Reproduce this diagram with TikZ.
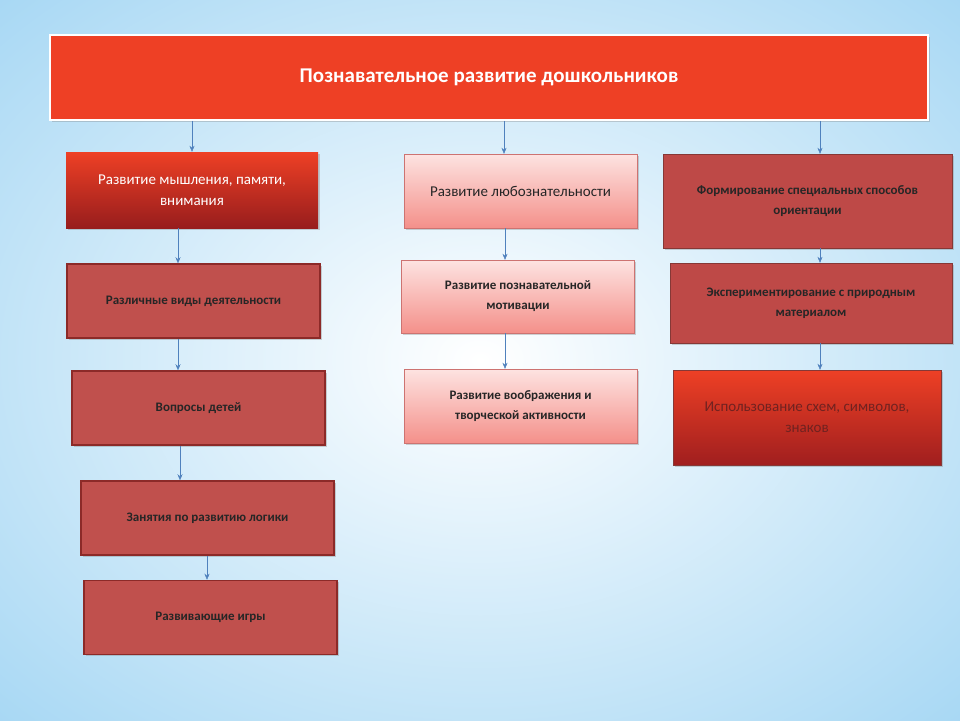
\documentclass[tikz,border=0pt]{standalone}
\usepackage{fontspec}
\setmainfont{Carlito}
\usetikzlibrary{arrows.meta,shadows}

\definecolor{titlered}{HTML}{EE4025}
\definecolor{boxred}{HTML}{C0504D}
\definecolor{boxedge}{HTML}{8C2A28}
\definecolor{darkred}{HTML}{B22222}
\definecolor{pinktop}{HTML}{FDE3E1}
\definecolor{pinkbot}{HTML}{F4908A}
\definecolor{arrowblue}{HTML}{4F81BD}
\definecolor{skyblue}{HTML}{A8D8F4}

\newcommand\boxfont{\fontsize{13}{20}\selectfont}

\tikzset{
  box/.style={minimum width=#1, align=center, inner sep=2pt,
    drop shadow={shadow xshift=1.5pt, shadow yshift=-1.5pt, opacity=0.35}},
  brickbox/.style={box=253pt, minimum height=74pt, fill=boxred, draw=boxedge,
    line width=1.5pt, font=\boxfont\bfseries, text=black!85},
  redbox/.style={box=252pt, minimum height=76pt, top color=titlered,
    bottom color=darkred!85!black, text=white, font=\fontsize{15}{21}\selectfont},
  pinkbox/.style={box=233pt, minimum height=74pt, top color=pinktop,
    bottom color=pinkbot, draw=boxred!80, font=\boxfont, text=black!85},
  rightbox/.style={box=#1, fill=boxred!85!darkred, draw=boxred!70!black,
    font=\boxfont\bfseries, text=black!85},
  link/.style={-{Stealth[length=6pt,width=5pt]}, draw=arrowblue, thin}
}

\begin{document}
\begin{tikzpicture}[x=1pt,y=-1pt]
  % background
  \useasboundingbox (0,0) rectangle (960,720);
  \begin{scope}
    \clip (0,0) rectangle (960,720);
    \shade[inner color=white, outer color=skyblue] (-200,-150) rectangle (1160,870);
  \end{scope}

  \node[box=878pt, minimum height=85pt, fill=titlered, draw=white,
    line width=1.5pt, text=white, font=\fontsize{21}{25}\selectfont\bfseries] (title) at (489,77.5)
    {Познавательное развитие дошкольников};

  % left column
  \node[redbox] (think) at (192,190) {Развитие мышления, памяти,\\ внимания};
  \node[brickbox] (kinds) at (193.5,301) {Различные виды деятельности};
  \node[brickbox] (quest) at (198.5,408) {Вопросы детей};
  \node[brickbox] (logic) at (207.5,518) {Занятия по развитию логики};
  \node[brickbox] (games) at (210.5,617.5) {Развивающие игры};

  % middle column
  \node[pinkbox, font=\fontsize{15}{20}\selectfont] (curio) at (520.5,191) {Развитие любознательности};
  \node[pinkbox, minimum height=73pt, font=\boxfont\bfseries] (motiv) at (518,296.5) {Развитие познавательной\\ мотивации};
  \node[pinkbox, font=\boxfont\bfseries] (imag) at (520.5,406) {Развитие воображения и\\ творческой активности};

  % right column
  \node[rightbox=289pt, minimum height=94pt] (orient) at (807.5,201)
    {Формирование специальных способов\\ ориентации};
  \node[rightbox=282pt, minimum height=80pt] (exper) at (811,303)
    {Экспериментирование с природным\\ материалом};
  \node[box=268pt, minimum height=95pt, top color=titlered, bottom color=darkred!90!black,
    draw=boxred!70!black, text=boxedge!80!black, font=\fontsize{15}{21}\selectfont] (signs) at (807,417.5)
    {Использование  схем, символов,\\ знаков};

  % connectors
  \draw[link] (title.south -| think.north) -- (think.north);
  \draw[link] ([xshift=-14pt]think.south) -- ([xshift=-15.5pt]kinds.north);
  \draw[link] ([xshift=-15.5pt]kinds.south) -- ([xshift=-20.5pt]quest.north);
  \draw[link] ([xshift=-18.5pt]quest.south) -- ([xshift=-27.5pt]logic.north);
  \draw[link] ([xshift=-0.5pt]logic.south) -- ([xshift=-3.5pt]games.north);
  \draw[link] ([xshift=-16.5pt]title.south -| curio.north) -- ([xshift=-16.5pt]curio.north);
  \draw[link] ([xshift=-15.5pt]curio.south) -- ([xshift=-13pt]motiv.north);
  \draw[link] ([xshift=-13pt]motiv.south) -- ([xshift=-15.5pt]imag.north);
  \draw[link] ([xshift=12.5pt]title.south -| orient.north) -- ([xshift=12.5pt]orient.north);
  \draw[link] ([xshift=12.5pt]orient.south) -- ([xshift=9pt]exper.north);
  \draw[link] ([xshift=9pt]exper.south) -- ([xshift=13pt]signs.north);
\end{tikzpicture}
\end{document}
